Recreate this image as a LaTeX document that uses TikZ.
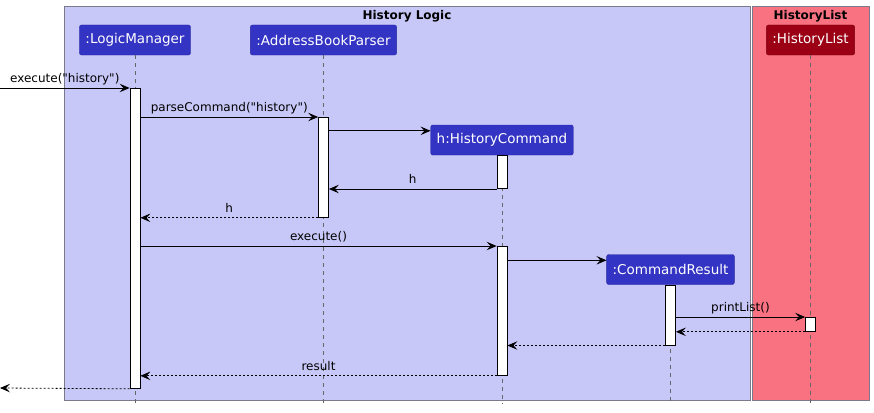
\documentclass[tikz,border=0pt]{standalone}
\usepackage{fontspec}
\newfontfamily\umlfont{DejaVu Sans}
\usetikzlibrary{positioning,calc,arrows.meta}

\definecolor{logicbg}{HTML}{C8C8F8}
\definecolor{listbg}{HTML}{F97282}
\definecolor{partblue}{HTML}{3333C4}
\definecolor{partred}{HTML}{9C0014}
\definecolor{framegray}{HTML}{7A7A8A}

\tikzset{
	part/.style={fill=partblue,draw=partblue!80!black,text=white,rounded corners=2pt,minimum height=30pt,inner xsep=6pt,font=\umlfont\fontsize{13.5}{15}\selectfont},
	bar/.style={fill=white,draw=black,line width=0.8pt,minimum width=10pt,inner sep=0pt},
	life/.style={draw=black!60,dash pattern=on 4pt off 4pt,line width=0.6pt},
	msg/.style={-{Stealth[length=10pt,width=8.5pt,inset=4pt]},line width=0.8pt},
	ret/.style={msg,dash pattern=on 2pt off 2pt},
	lbl/.style={above,inner xsep=2pt,inner ysep=3.5pt,text height=1.6ex,text depth=0.3ex,font=\umlfont\fontsize{12}{14}\selectfont},
	frame/.style={draw=framegray,line width=0.8pt},
	frametitle/.style={font=\umlfont\bfseries\fontsize{12}{14}\selectfont}
}

\begin{document}
\begin{tikzpicture}[x=1pt,y=-1pt]
		\useasboundingbox (0,0) rectangle (874,412);
		% boxes
		\draw[frame,fill=logicbg] (64.5,6) rectangle (750,400);
		\draw[frame,fill=listbg] (752,6) rectangle (869,400);
		\node[frametitle] (logictitle) at (407,16) {History Logic};
		\node[frametitle] (listtitle) at (810.5,16) {HistoryList};
		% participants
		\node[part] (lm) at (135,40) {:LogicManager};
		\node[part] (abp) at (323.5,40) {:AddressBookParser};
		\node[part,fill=partred,draw=partred!80!black] (hl) at (810.5,40) {:HistoryList};
		\node[part] (hc) at (502,140) {h:HistoryCommand};
		\node[part] (cr) at (670.5,269.5) {:CommandResult};
		\coordinate (bot) at (0,404);
		\coordinate (in) at (0,88);
		\coordinate (out) at (0,388);
		\coordinate (hcin) at ($(hc.north west)+(0,6)$);
		\coordinate (crin) at ($(cr.north west)+(0,6)$);
		% lifelines
		\draw[life] (lm.south) -- (lm.south |- bot);
		\draw[life] (abp.south) -- (abp.south |- bot);
		\draw[life] (hc.south) -- (hc.south |- bot);
		\draw[life] (cr.south) -- (cr.south |- bot);
		\draw[life] (hl.south) -- (hl.south |- bot);
		% activations
		\node[bar,minimum height=300pt,anchor=north] (lmbar) at (135,88) {};
		\node[bar,minimum height=100pt,anchor=north] (abpbar) at (323.5,117) {};
		\node[bar,minimum height=33pt,anchor=north] (hcbar1) at (hc.south) {};
		\node[bar,minimum height=129pt,anchor=north] (hcbar2) at (502,246) {};
		\node[bar,minimum height=60pt,anchor=north] (crbar) at (cr.south) {};
		\node[bar,minimum height=14pt,anchor=north] (hlbar) at (810.5,317) {};
		% messages
		\draw[msg] (in) -- (lmbar.north west) node[lbl,midway] {execute("history")};
		\draw[msg] (lmbar.east |- abpbar.north) -- (abpbar.north west) node[lbl,midway] {parseCommand("history")};
		\draw[msg] (abpbar.east |- hcin) -- (hcin);
		\draw[msg] (hcbar1.south west) -- (abpbar.east |- hcbar1.south) node[lbl,midway] {h};
		\draw[ret] (abpbar.south west) -- (lmbar.east |- abpbar.south) node[lbl,midway] {h};
		\draw[msg] (lmbar.east |- hcbar2.north) -- (hcbar2.north west) node[lbl,midway] {execute()};
		\draw[msg] (hcbar2.east |- crin) -- (crin);
		\draw[msg] (crbar.east |- hlbar.north) -- (hlbar.north west) node[lbl,midway] {printList()};
		\draw[ret] (hlbar.south west) -- (crbar.east |- hlbar.south);
		\draw[ret] (crbar.south west) -- (hcbar2.east |- crbar.south);
		\draw[ret] (hcbar2.south west) -- (lmbar.east |- hcbar2.south) node[lbl,midway] {result};
		\draw[ret] (lmbar.south west) -- (out);
	\end{tikzpicture}
\end{document}
